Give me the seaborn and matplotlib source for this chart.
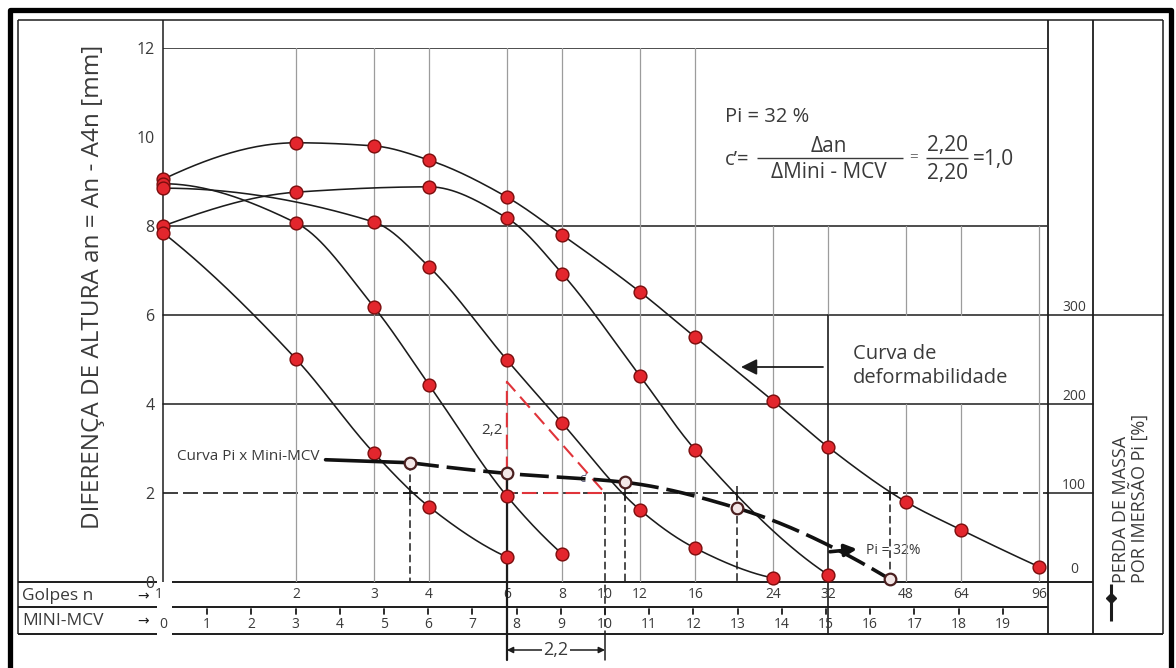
import numpy as np
import pandas as pd
import matplotlib
matplotlib.use("Agg")
import matplotlib.pyplot as plt
import matplotlib.transforms as mtrans
import seaborn as sns

# ------------------------------------------------------------------ data
golpes = [1, 2, 3, 4, 6, 8, 10, 12, 16, 24, 32, 48, 64, 96]
mini_mcv_labels = list(range(0, 20))
left_ticks = [0, 2, 4, 6, 8, 10, 12]
pi_ticks = [0, 100, 200, 300]

curve_a_n = [1, 2, 3, 4, 6, 8, 12, 16, 24, 32, 48, 64, 96]
curve_a_an = [9.05, 9.87, 9.80, 9.48, 8.65, 7.80, 6.52, 5.50, 4.07, 3.03, 1.80, 1.17, 0.34]
curve_b_n = [1, 2, 4, 6, 8, 12, 16, 32]
curve_b_an = [8.00, 8.76, 8.88, 8.18, 6.93, 4.63, 2.97, 0.16]
curve_c_n = [1, 2, 3, 4, 6, 8]
curve_c_an = [8.95, 8.07, 6.18, 4.43, 1.93, 0.63]
curve_d_n = [1, 3, 4, 6, 8, 12, 16, 24]
curve_d_an = [8.85, 8.09, 7.08, 4.99, 3.57, 1.62, 0.76, 0.09]
curve_e_n = [1, 2, 3, 4, 6]
curve_e_an = [7.85, 5.01, 2.90, 1.69, 0.56]

pi_mcv = [5.59, 7.78, 10.45, 12.99, 16.45]
pi_values = [134, 122, 112, 83, 3]
pi_result = 32
an_reference = 2.0
tri_mcv = [7.78, 7.78, 10.0]
tri_an = [2.0, 4.5, 2.0]

# ------------------------------------------------------------------ helpers
def mcv(n):
    return 10.0 * np.log10(np.asarray(n, float))


def pchip(x, y, num=300):
    x = np.asarray(x, float); y = np.asarray(y, float)
    n = len(x); h = np.diff(x); d = np.diff(y) / h
    m = np.zeros(n)
    if n == 2:
        m[:] = d[0]
    else:
        for k in range(1, n - 1):
            if d[k - 1] * d[k] <= 0:
                m[k] = 0.0
            else:
                w1 = 2 * h[k] + h[k - 1]; w2 = h[k] + 2 * h[k - 1]
                m[k] = (w1 + w2) / (w1 / d[k - 1] + w2 / d[k])

        def ends(h0, h1, d0, d1):
            s = ((2 * h0 + h1) * d0 - h0 * d1) / (h0 + h1)
            if np.sign(s) != np.sign(d0):
                s = 0.0
            elif np.sign(d0) != np.sign(d1) and abs(s) > abs(3 * d0):
                s = 3 * d0
            return s
        m[0] = ends(h[0], h[1], d[0], d[1])
        m[-1] = ends(h[-1], h[-2], d[-1], d[-2])
    xs = np.linspace(x[0], x[-1], num)
    i = np.clip(np.searchsorted(x, xs) - 1, 0, n - 2)
    t = (xs - x[i]) / h[i]
    ys = ((2 * t**3 - 3 * t**2 + 1) * y[i] + (t**3 - 2 * t**2 + t) * h[i] * m[i]
          + (-2 * t**3 + 3 * t**2) * y[i + 1] + (t**3 - t**2) * h[i] * m[i + 1])
    return xs, ys


# ------------------------------------------------------------------ figure
sns.set_style("white")
plt.rcParams['font.family'] = ['Open Sans', 'DejaVu Sans']
TXT = '#3a3a3a'
LINE = '#1c1c1c'
GRID = '#9c9c9c'
RED = '#e3262d'
DRED = '#7a0d0d'

W, H = 1176, 668
fig = plt.figure(figsize=(W / 100, H / 100), dpi=100, facecolor='white')
bg = fig.add_axes([0, 0, 1, 1])
bg.set_xlim(0, W); bg.set_ylim(H, 0); bg.axis('off'); bg.set_zorder(0)

X0, X1, Y0, Y1 = 163, 1047, 582, 48
PXU = (X1 - X0) / 20.0
PYU = (Y0 - Y1) / 12.0
ax = fig.add_axes([X0 / W, 1 - Y0 / H, (X1 - X0) / W, (Y0 - Y1) / H])
ax.set_zorder(1); ax.patch.set_alpha(0)
for s in ax.spines.values():
    s.set_visible(False)

def MX(px):
    return (px - X0) / PXU

def AY(py):
    return (Y0 - py) / PYU

tx = mtrans.blended_transform_factory(ax.transData, bg.transData)

def hl(y, x0, x1, lw=1.1, color=LINE, **kw):
    bg.plot([x0, x1], [y, y], color=color, lw=lw, solid_capstyle='butt', **kw)

def vl(x, y0, y1, lw=1.1, color=LINE, **kw):
    bg.plot([x, x], [y0, y1], color=color, lw=lw, solid_capstyle='butt', **kw)

# outer thick frame
bg.plot([9.5, 9.5, 1171, 1171], [700, 9.5, 9.5, 700], color='black', lw=3.8, clip_on=False)
# inner frame and table
hl(20, 18, 1163)
vl(18, 20, 634)
vl(1163, 20, 634)
vl(163, 20, 582)
vl(1048, 20, 634, lw=1.3)
vl(1093, 20, 634, lw=1.3)
for yy, xe in [(582, 1093), (607, 1048), (634, 1163)]:
    hl(yy, 18, 157, lw=1.4)
    hl(yy, 172, xe, lw=1.4)

# horizontal reference lines (data levels)
ax.plot([0, 20], [12, 12], color=LINE, lw=1.1)
ax.plot([0, 20], [8, 8], color=LINE, lw=1.1)
ax.plot([0, MX(1163)], [6, 6], color=LINE, lw=1.1, clip_on=False)
ax.plot([0, MX(1093)], [4, 4], color=LINE, lw=1.1, clip_on=False)
ax.plot([0, 20], [an_reference] * 2, color=LINE, lw=1.2, dashes=(9, 3))
ax.plot([20, MX(1093)], [an_reference] * 2, color=LINE, lw=1.1, clip_on=False)

# vertical grid lines at Golpes positions
for n in golpes[1:]:
    if n == 10:
        continue
    x = float(mcv(n))
    if n <= 16:
        ax.plot([x, x], [0, 12], color=GRID, lw=0.9)
    elif n in (48, 64):
        ax.plot([x, x], [0, 4], color=GRID, lw=0.9)
        ax.plot([x, x], [6, 8], color=GRID, lw=0.9)
    elif n == 32:
        ax.plot([x, x], [6, 8], color=GRID, lw=0.9)
        ax.plot([x, x], [6, AY(634)], color=LINE, lw=1.2, clip_on=False)
    else:
        ax.plot([x, x], [0, 8], color=GRID, lw=0.9)

# deformability curves
curves = {'A': (curve_a_n, curve_a_an), 'B': (curve_b_n, curve_b_an),
          'C': (curve_c_n, curve_c_an), 'D': (curve_d_n, curve_d_an),
          'E': (curve_e_n, curve_e_an)}
rows = []
for name, (nn, aa) in curves.items():
    xs, ys = pchip(mcv(nn), aa)
    sns.lineplot(x=xs, y=ys, ax=ax, color=LINE, lw=1.15, estimator=None,
                 sort=False, zorder=3, clip_on=False)
    for n_, a_ in zip(nn, aa):
        rows.append({'curve': name, 'mcv': float(mcv(n_)), 'an': a_})
pts = pd.DataFrame(rows)

# red triangle and reference construction lines
ax.plot(tri_mcv + [tri_mcv[0]], tri_an + [tri_an[0]], color='#e0343a', lw=1.5,
        dashes=(7, 3.5), zorder=4)
ax.text(tri_mcv[0] - 0.33, 3.4, '2,2', fontsize=11, color=TXT, ha='center', va='center')
ax.text(9.5, 2.33, 'c\u2019', fontsize=9, color='#5a5a7a', ha='center', va='center')

for i, (m, p) in enumerate(zip(pi_mcv, pi_values)):
    top = max(an_reference, p / 50.0)
    if i == 1:
        ax.plot([m, m], [top, AY(660)], color=LINE, lw=1.6, clip_on=False, zorder=4)
    else:
        ax.plot([m, m], [top, 0], color=LINE, lw=1.1, dashes=(5, 2.5), zorder=4)
        ax.plot([m], [an_reference], marker='+', ms=10, mew=1.1, color=LINE, zorder=4)
ax.plot([tri_mcv[2]] * 2, [an_reference, AY(634)], color=LINE, lw=1.1, dashes=(5, 2.5),
        clip_on=False)
ax.plot([tri_mcv[2]] * 2, [AY(634), AY(660)], color=LINE, lw=1.1, clip_on=False)
ax.annotate('', xy=(pi_mcv[1], AY(650)), xytext=(tri_mcv[2], AY(650)),
            arrowprops=dict(arrowstyle='<|-|>', color=LINE, lw=1.1, mutation_scale=9,
                            shrinkA=0, shrinkB=0), annotation_clip=False)
ax.text((pi_mcv[1] + tri_mcv[2]) / 2, AY(650), '2,2', fontsize=13, color=TXT,
        ha='center', va='center', bbox=dict(fc='white', ec='none', pad=1))

# red markers
sns.scatterplot(data=pts, x='mcv', y='an', ax=ax, color=RED, edgecolor=DRED, s=85,
                linewidth=1.0, zorder=5, legend=False, clip_on=False)

# deformability label
ax.annotate('', xy=(MX(741), AY(367)), xytext=(MX(823), AY(367)),
            arrowprops=dict(arrowstyle='-|>', color=LINE, lw=1.3, mutation_scale=24,
                            shrinkA=0, shrinkB=0))
bg.text(853, 366, 'Curva de\ndeformabilidade', fontsize=14.5, color=TXT, ha='left',
        va='center', linespacing=1.3)

# Pi axis
ax2 = ax.twinx()
ax2.set_zorder(2)
for s in ax2.spines.values():
    s.set_visible(False)
ax2.set_ylim(0, 600)
ax2.set_yticks([])
ty2 = mtrans.blended_transform_factory(bg.transData, ax2.transData)
for v in pi_ticks:
    ax2.text(1074, v + (6 if v == 0 else 0), str(v), transform=ty2, ha='center',
             va='bottom', fontsize=10, color=TXT)

pxs, pys = pchip(pi_mcv, pi_values)
ax2.plot(pxs, pys, color='#111111', lw=2.6, dashes=(8, 2.2), zorder=6, clip_on=False)
sns.scatterplot(x=pi_mcv, y=pi_values, ax=ax2, s=70, color='#f3e6e6', edgecolor='#4a1f1f',
                linewidth=1.6, zorder=7, legend=False, clip_on=False)
ax2.annotate('Curva Pi x Mini-MCV', xy=(pi_mcv[0], pi_values[0]), xycoords='data',
             xytext=(177, 457), textcoords=bg.transData, fontsize=11, color=TXT,
             ha='left', va='center',
             arrowprops=dict(arrowstyle='-', color='#111111', lw=2.6, shrinkA=2, shrinkB=4))
ax2.annotate('', xy=(MX(857), 37), xytext=(15.09, 34),
             arrowprops=dict(arrowstyle='-|>', color='#111111', lw=2.6, mutation_scale=18,
                             shrinkA=0, shrinkB=0))
bg.text(866, 550, 'Pi = %d%%' % pi_result, fontsize=10, color=TXT, ha='left', va='center')

# formula box
bg.text(725, 117, 'Pi = %d %%' % pi_result, fontsize=14.5, color=TXT, ha='left', va='center')
bg.text(725, 160, 'c\u2019=', fontsize=14.5, color=TXT, ha='left', va='center')
bg.text(829, 146, '\u0394an', fontsize=15, color=TXT, ha='center', va='center')
bg.text(829, 173, '\u0394Mini - MCV', fontsize=15, color=TXT, ha='center', va='center')
hl(158, 757, 903, lw=1.0, color=TXT)
bg.text(914, 158, '=', fontsize=11, color='#777777', ha='center', va='center')
bg.text(947, 146, '2,20', fontsize=15, color=TXT, ha='center', va='center')
bg.text(947, 173, '2,20', fontsize=15, color=TXT, ha='center', va='center')
hl(158, 926, 968, lw=1.0, color=TXT)
bg.text(973, 160, '=1,0', fontsize=15, color=TXT, ha='left', va='center')

# y label and right label
bg.text(93, 287, 'DIFERENÇA DE ALTURA an = An - A4n [mm]', rotation=90, fontsize=17.5,
        color=TXT, ha='center', va='center')
bg.text(1121, 583, 'PERDA DE MASSA', rotation=90, fontsize=13, color=TXT,
        ha='center', va='bottom')
bg.text(1139, 583, 'POR IMERSÃO Pi [%]', rotation=90, fontsize=13, color=TXT,
        ha='center', va='bottom')
vl(1111, 584, 621, lw=2.2, color=LINE)
bg.plot([1111], [598], marker='D', ms=5, color=LINE)

# table rows
bg.text(22, 596, 'Golpes n', fontsize=12.5, color=TXT, ha='left', va='center')
bg.text(22, 621, 'MINI-MCV', fontsize=12.5, color=TXT, ha='left', va='center')
bg.text(143, 596, '\u2192', fontsize=10, color=LINE, ha='center', va='center',
        family='DejaVu Sans')
bg.text(143, 621, '\u2192', fontsize=10, color=LINE, ha='center', va='center',
        family='DejaVu Sans')
for n in golpes:
    ax.text(float(mcv(n)), 595, str(n), transform=tx, fontsize=10, color=TXT,
            ha='right' if n == 1 else 'center', va='center')
for k in mini_mcv_labels:
    ax.text(k, 624, str(k), transform=tx, fontsize=10, color=TXT, ha='center', va='center')
    if k > 0:
        ax.plot([k, k], [609, 614], transform=tx, color=LINE, lw=1.3, clip_on=False)

# left axis ticks
ax.set_xticks([])
ax.set_yticks(left_ticks)
ax.set_yticklabels([str(v) for v in left_ticks])
ax.tick_params(axis='y', length=0, pad=6, labelsize=11.5, labelcolor=TXT)
ax.set_xlabel(''); ax.set_ylabel('')
ax.set_xlim(0, 20); ax.set_ylim(0, 12)
ax2.set_xlim(0, 20); ax2.set_ylim(0, 600)
ax2.set_ylabel('')

fig.savefig('out.png', dpi=100, facecolor='white')
